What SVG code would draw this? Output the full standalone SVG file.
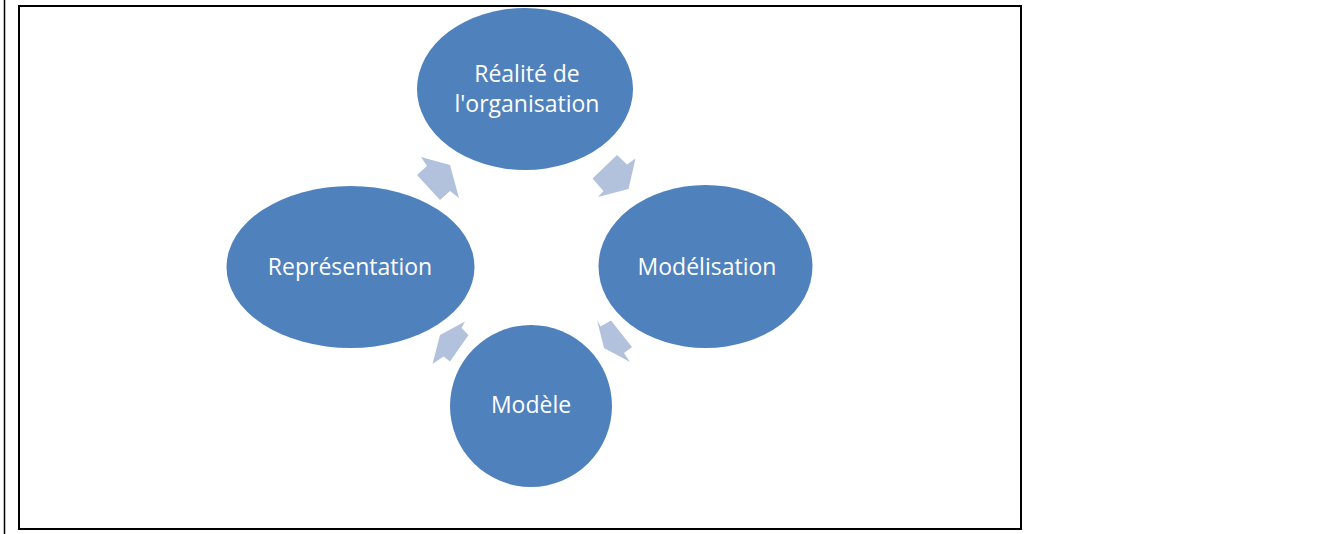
<svg xmlns="http://www.w3.org/2000/svg" width="1341" height="534" viewBox="0 0 1341 534">
  <style>
    .node { fill: #4F81BD; }
    .lbl { font-family: "Open Sans", "Noto Sans", "Liberation Sans", sans-serif; font-size: 23px; fill: #FFFFFF; text-anchor: middle; }
    .arr { fill: #B3C2DC; }
    .frame { fill: none; stroke: #000000; stroke-width: 2; }
  </style>
  <rect width="1341" height="534" fill="#FFFFFF"/>
  <line x1="4.5" y1="0" x2="4.5" y2="534" stroke="#000000" stroke-width="1.5"/>
  <rect class="frame" x="19" y="6" width="1002" height="523"/>

  <g id="connectors">
    <polygon class="arr" points="421,157 450,165 459,198 450,191 440,200 417,175 427,166"/>
    <polygon class="arr" points="617,155 627,164.5 635.5,158.5 628.5,189 598,197 603.5,191 592.5,178.5"/>
    <polygon class="arr" points="597,320 600.5,326.5 611,320.5 632,347 624,353 630,362 604,348"/>
    <polygon class="arr" points="465,321.5 461.5,328 468.5,335 450,361.5 443.5,356.5 432.5,364 440,335"/>
  </g>

  <g id="node-realite">
    <ellipse class="node" cx="525" cy="89" rx="108" ry="81"/>
    <text class="lbl" x="527" y="82">Réalité de</text>
    <text class="lbl" x="527" y="112">l'organisation</text>
  </g>
  <g id="node-modelisation">
    <ellipse class="node" cx="705.5" cy="266.5" rx="107" ry="81.5"/>
    <text class="lbl" x="707" y="275">Modélisation</text>
  </g>
  <g id="node-modele">
    <circle class="node" cx="531" cy="406" r="81"/>
    <text class="lbl" x="531" y="413">Modèle</text>
  </g>
  <g id="node-representation">
    <ellipse class="node" cx="350.5" cy="267" rx="124" ry="81"/>
    <text class="lbl" x="350" y="275">Représentation</text>
  </g>
</svg>
